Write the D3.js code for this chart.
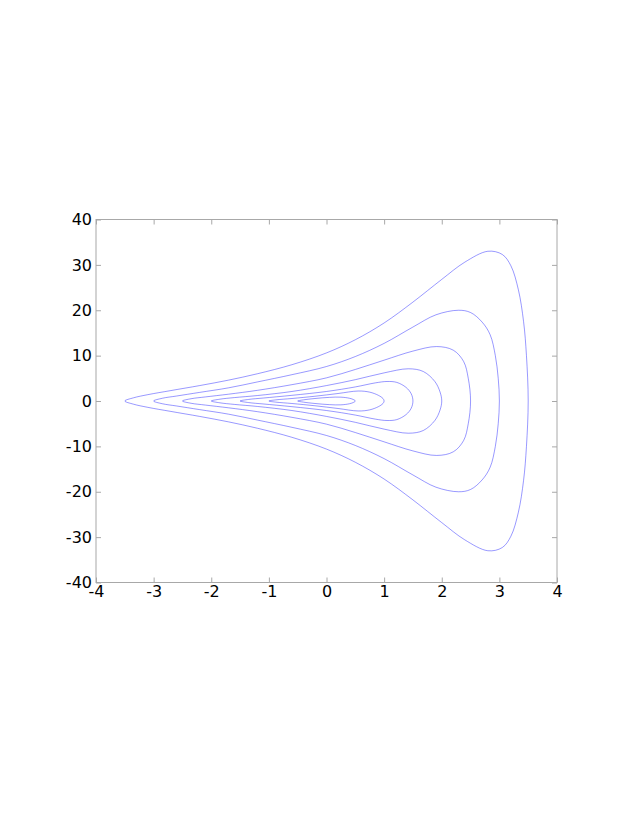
<!DOCTYPE html>
<html>
<head>
<meta charset="utf-8">
<script src="https://cdn.jsdelivr.net/npm/d3@7"></script>
<style>
  body { margin: 0; background: #fff; }
  .tick text { font-family: "DejaVu Sans", sans-serif; font-size: 16px; fill: #000; }
  .tick line { stroke: #a8a8a8; }
</style>
</head>
<body>
<div id="chart"></div>
<script>
// tick values
const xTicks = [-4, -3, -2, -1, 0, 1, 2, 3, 4];
const yTicks = [-40, -30, -20, -10, 0, 10, 20, 30, 40];

// contour curves: upper half from left tip to right tip,
// lower half (interior points only) in the same left-to-right order
const curve1Upper = [[-3.5,0],[-3.35,0.7],[-3.1,1.4],[-2.7,2.3],[-2.2,3.4],[-1.7,4.6],[-1.2,6.0],[-0.6,8.0],[0,10.6],[0.5,13.5],[1.0,17.2],[1.5,21.8],[2.0,26.8],[2.4,30.6],[2.8,33.0],[3.05,32.3],[3.2,29.8],[3.33,24.5],[3.42,17.5],[3.47,10],[3.5,0]];
const curve1Lower = [[-3.35,-0.7],[-3.1,-1.4],[-2.7,-2.3],[-2.2,-3.4],[-1.7,-4.6],[-1.2,-6.0],[-0.6,-8.0],[0,-10.6],[0.5,-13.5],[1.0,-17.2],[1.5,-21.8],[2.0,-26.8],[2.4,-30.6],[2.8,-33.0],[3.05,-32.3],[3.2,-29.8],[3.33,-24.5],[3.42,-17.5],[3.47,-10]];

const curve2Upper = [[-3,0],[-2.85,0.6],[-2.6,1.1],[-2.2,1.9],[-1.7,2.9],[-1.2,4.2],[-0.6,5.8],[0,7.6],[0.5,9.8],[1.0,12.7],[1.5,16.3],[1.9,19.0],[2.29,20.0],[2.5,19.5],[2.7,17.4],[2.84,14.6],[2.93,10],[2.98,5],[3,0]];
const curve2Lower = [[-2.85,-0.6],[-2.6,-1.1],[-2.2,-1.9],[-1.7,-2.9],[-1.2,-4.2],[-0.6,-5.8],[0,-7.6],[0.5,-9.8],[1.0,-12.7],[1.5,-16.3],[1.9,-19.0],[2.29,-20.0],[2.5,-19.5],[2.7,-17.4],[2.84,-14.6],[2.93,-10],[2.98,-5]];

const curve3Upper = [[-2.5,0],[-2.35,0.5],[-2.1,0.9],[-1.7,1.5],[-1.2,2.35],[-0.6,3.6],[0,5.1],[0.5,6.95],[1.0,9.0],[1.5,11.0],[1.91,12.0],[2.2,11.2],[2.38,8.7],[2.46,5],[2.5,0]];
const curve3Lower = [[-2.35,-0.5],[-2.1,-0.9],[-1.7,-1.5],[-1.2,-2.35],[-0.6,-3.6],[0,-5.1],[0.5,-6.95],[1.0,-9.0],[1.5,-11.0],[1.91,-12.0],[2.2,-11.2],[2.38,-8.7],[2.46,-5]];

const curve4Upper = [[-2,0],[-1.85,0.4],[-1.6,0.75],[-1.2,1.2],[-0.6,2.1],[0,3.4],[0.5,4.7],[1.0,6.2],[1.42,7.1],[1.68,6.5],[1.88,4.3],[1.97,2],[2,0]];
const curve4Lower = [[-1.85,-0.4],[-1.6,-0.75],[-1.2,-1.2],[-0.6,-2.1],[0,-3.4],[0.5,-4.7],[1.0,-6.2],[1.42,-7.1],[1.68,-6.5],[1.88,-4.3],[1.97,-2]];

const curve5Upper = [[-1.5,0],[-1.35,0.35],[-1.1,0.65],[-0.6,1.25],[0,2.1],[0.5,3.1],[0.85,4.0],[1.05,4.3],[1.22,4.1],[1.38,3.0],[1.47,1.6],[1.5,0]];
const curve5Lower = [[-1.35,-0.35],[-1.1,-0.65],[-0.6,-1.25],[0,-2.1],[0.5,-3.1],[0.85,-4.0],[1.05,-4.3],[1.22,-4.1],[1.38,-3.0],[1.47,-1.6]];

const curve6Upper = [[-1,0],[-0.88,0.25],[-0.6,0.55],[-0.2,1.05],[0.2,1.65],[0.55,2.2],[0.75,1.95],[0.9,1.25],[0.98,0.55],[1,0]];
const curve6Lower = [[-0.88,-0.25],[-0.6,-0.55],[-0.2,-1.05],[0.2,-1.65],[0.55,-2.2],[0.75,-1.95],[0.9,-1.25],[0.98,-0.55]];

const curve7Upper = [[-0.5,0],[-0.4,0.25],[-0.2,0.55],[0.05,0.8],[0.25,0.85],[0.4,0.6],[0.47,0.3],[0.5,0]];
const curve7Lower = [[-0.4,-0.25],[-0.2,-0.55],[0.05,-0.8],[0.25,-0.85],[0.4,-0.6],[0.47,-0.3]];

const curves = [
  [curve1Upper, curve1Lower], [curve2Upper, curve2Lower], [curve3Upper, curve3Lower],
  [curve4Upper, curve4Lower], [curve5Upper, curve5Lower], [curve6Upper, curve6Lower],
  [curve7Upper, curve7Lower]
];

const WIDTH = 632, HEIGHT = 817;
const LEFT = 96, RIGHT = 557, TOP = 219.5, BOTTOM = 582.5;
const TICK = 5;

const svg = d3.select("#chart").append("svg")
  .attr("width", WIDTH).attr("height", HEIGHT);

const x = d3.scaleLinear().domain([-4, 4]).range([LEFT, RIGHT]);
const y = d3.scaleLinear().domain([-40, 40]).range([BOTTOM, TOP]);

// plain hyphen for negatives, like the original
const fmt = d => String(d);

// frame
svg.append("rect")
  .attr("x", LEFT).attr("y", TOP)
  .attr("width", RIGHT - LEFT).attr("height", BOTTOM - TOP)
  .attr("fill", "none").attr("stroke", "#a8a8a8").attr("stroke-width", 1);

function axis(gen, tx, ty, labels) {
  const g = svg.append("g").attr("transform", `translate(${tx},${ty})`).call(gen);
  g.select(".domain").remove();
  if (!labels) g.selectAll("text").remove();
  return g;
}

axis(d3.axisBottom(x).tickValues(xTicks).tickFormat(fmt).tickSizeInner(-TICK).tickSizeOuter(0).tickPadding(3), 0, BOTTOM, true);
axis(d3.axisTop(x).tickValues(xTicks).tickSizeInner(-TICK).tickSizeOuter(0), 0, TOP, false);
axis(d3.axisLeft(y).tickValues(yTicks).tickFormat(fmt).tickSizeInner(-TICK).tickSizeOuter(0).tickPadding(4), LEFT, 0, true);
axis(d3.axisRight(y).tickValues(yTicks).tickSizeInner(-TICK).tickSizeOuter(0), RIGHT, 0, false);

const line = d3.line()
  .x(d => x(d[0])).y(d => y(d[1]))
  .curve(d3.curveCatmullRomClosed.alpha(0.5));

svg.append("g").selectAll("path")
  .data(curves)
  .join("path")
  .attr("d", d => line(d[0].concat(d[1].slice().reverse())))
  .attr("fill", "none")
  .attr("stroke", "#0000ff")
  .attr("stroke-opacity", 0.5)
  .attr("stroke-width", 0.8);
</script>
</body>
</html>
